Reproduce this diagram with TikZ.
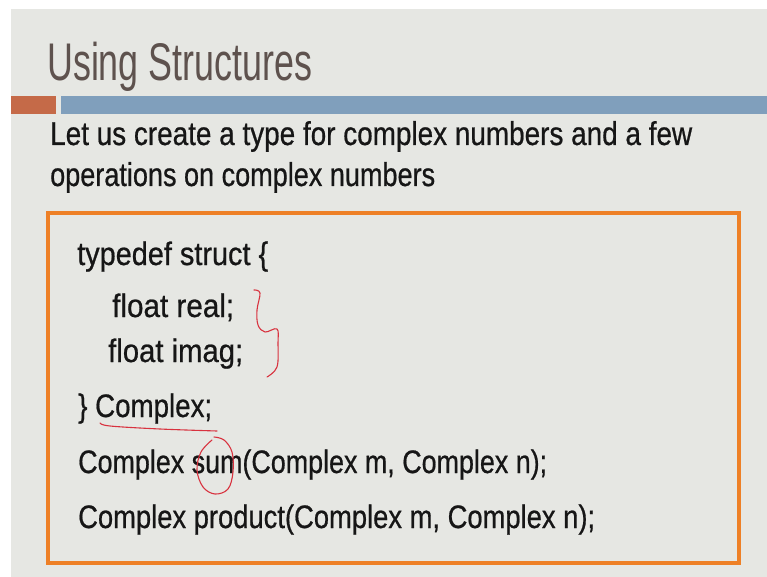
\documentclass[tikz,border=0pt]{standalone}
\usepackage{fontspec}
\setmainfont{Liberation Sans}
\newfontfamily\heavyfont{Liberation Sans}[FakeBold=0.7]
\usepackage{graphicx}
\definecolor{slidebg}{HTML}{E6E7E3}
\definecolor{barorange}{HTML}{C56A48}
\definecolor{barblue}{HTML}{809FBC}
\definecolor{titlecol}{HTML}{5E524E}
\definecolor{textcol}{HTML}{161616}
\definecolor{boxorange}{HTML}{EE8026}
\definecolor{inkred}{HTML}{D8323F}
\newcommand{\fitw}[2]{\resizebox{#1pt}{\height}{#2}}
\tikzset{
  titletext/.style={anchor=base west, inner sep=0pt, text=titlecol, font=\fontsize{53}{60}\selectfont},
  bodytext/.style={anchor=base west, inner sep=0pt, text=textcol, font=\heavyfont\fontsize{33}{38}\selectfont},
  codetext/.style={anchor=base west, inner sep=0pt, text=textcol, font=\heavyfont\fontsize{32.5}{38}\selectfont},
  ink/.style={draw=inkred, line width=1.1pt, line cap=round, line join=round},
}
\begin{document}
\begin{tikzpicture}[x=1pt,y=-1pt]
\useasboundingbox (0,0) rectangle (767,577);
\fill[white] (0,0) rectangle (767,577);
\fill[slidebg] (11,9) rectangle (767,577);
% bars
\fill[barorange] (11,96) rectangle (56,114);
\fill[barblue] (61,96) rectangle (767,114);
% title
\node[titletext] (title) at (47,81) {\fitw{265}{Using Structures}};
% intro text
\node[bodytext] (l1) at (50,145) {\fitw{642}{Let us create a type for complex numbers and a few}};
\node[bodytext] (l2) at (50,186) {\fitw{385}{operations on complex numbers}};
% code box
\draw[boxorange, line width=3.5pt] (48,213) rectangle (739,563);
\node[codetext] (c1) at (77,265) {\fitw{191}{typedef struct \{}};
\node[codetext] (c2) at (112,317) {\fitw{122}{float real;}};
\node[codetext] (c3) at (108,362) {\fitw{135}{float imag;}};
\node[codetext] (c4) at (78,417) {\fitw{134}{\} Complex;}};
\node[codetext] (c5) at (78,473) {\fitw{469}{Complex sum(Complex m, Complex n);}};
\node[codetext] (c6) at (78,528) {\fitw{517}{Complex product(Complex m, Complex n);}};
% red annotations
\draw[ink] plot[smooth, tension=0.6] coordinates {(254,290) (260,293) (257,310) (258,325) (265,332) (277,329) (278,343) (277,367) (267,377)};
\draw[ink] plot[smooth, tension=0.6] coordinates {(100,423) (110,426) (160,429) (217,431)};
\draw[ink] plot[smooth, tension=0.6] coordinates {(212,440) (201,452) (197,470) (203,487) (215,494) (228,489) (233,472) (232,452) (224,440) (214,437)};
\end{tikzpicture}
\end{document}
